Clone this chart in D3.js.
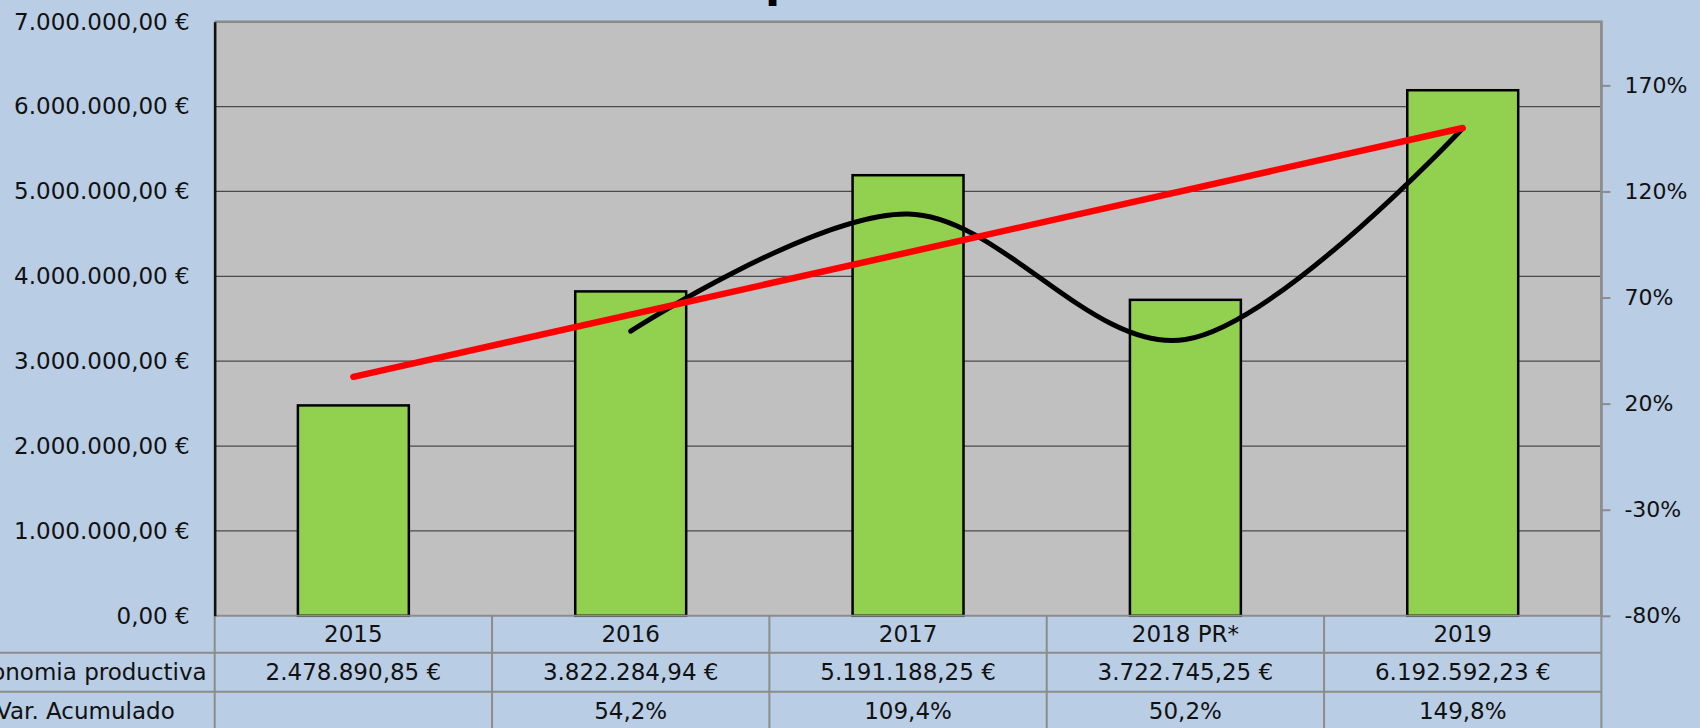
<!DOCTYPE html>
<html>
<head>
<meta charset="utf-8">
<script src="https://cdn.jsdelivr.net/npm/d3@7"></script>
<style>
  html, body { margin: 0; padding: 0; background: #B9CDE5; overflow: hidden; }
  text { font-family: "DejaVu Sans", sans-serif; fill: #111; }
</style>
</head>
<body>
<div id="chart"></div>
<script>
// data
const categories = ["2015", "2016", "2017", "2018 PR*", "2019"];
const productiva = [2478890.85, 3822284.94, 5191188.25, 3722745.25, 6192592.23];
const varAcumulado = [null, 0.542, 1.094, 0.502, 1.498];
const rowLabels = ["Economia productiva", "Var. Acumulado"];
const leftTicks = [0, 1000000, 2000000, 3000000, 4000000, 5000000, 6000000, 7000000];
const rightTicks = [-0.8, -0.3, 0.2, 0.7, 1.2, 1.7];
const titleText = "Economia productiva";

const width = 1700, height = 728;
const plotL = 214.7, plotR = 1601.4, plotT = 21.7, plotB = 615.8;
const rowLines = [615.8, 652.7, 691.7, 731];
const fontSize = 23;

const loc = d3.formatLocale({decimal: ",", thousands: ".", grouping: [3], currency: ["", " €"], minus: "-"});
const euro = v => loc.format(",.2f")(v) + " €";
const pct1 = loc.format(".1%");
const pct0 = loc.format(".0%");

const svg = d3.select("#chart")
  .append("svg")
    .attr("width", width)
    .attr("height", height)
    .style("display", "block");

svg.append("rect").attr("width", width).attr("height", height).attr("fill", "#B9CDE5");

// scales
const xCol = d3.scaleBand().domain(categories).range([plotL, plotR]);
const xBar = d3.scaleBand().domain(categories).range([plotL, plotR]).paddingInner(0.6).paddingOuter(0.3);
const yL = d3.scaleLinear().domain([0, 7000000]).range([plotB, plotT]);
const yR = d3.scaleLinear().domain([-0.8, 2.0]).range([plotB, plotT]);
const cx = c => xCol(c) + xCol.bandwidth() / 2;

// title sits above the page edge, only the descender of the "p" shows
const title = svg.append("text")
  .attr("y", -3)
  .style("font-size", "44px")
  .style("font-weight", "bold")
  .style("fill", "#000")
  .text(titleText);
const pIdx = titleText.indexOf("p");
const subLen = title.node().getSubStringLength(0, pIdx);
title.attr("x", 768 - 3 - subLen);

// plot area
svg.append("rect")
  .attr("x", plotL).attr("y", plotT)
  .attr("width", plotR - plotL).attr("height", plotB - plotT)
  .attr("fill", "#C0C0C0");

// gridlines
svg.append("g")
  .selectAll("line")
  .data(leftTicks.filter(d => d > 0 && d < 7000000))
  .join("line")
  .attr("x1", plotL).attr("x2", plotR)
  .attr("y1", d => yL(d)).attr("y2", d => yL(d))
  .attr("stroke", "#4a4a4a")
  .attr("stroke-width", 1.3);

// plot border top/right
svg.append("path")
  .attr("d", `M${plotL},${plotT}H${plotR}V${plotB}`)
  .attr("fill", "none")
  .attr("stroke", "#8a8a8a")
  .attr("stroke-width", 2.5);

// bars
svg.append("g")
  .selectAll("rect")
  .data(categories)
  .join("rect")
  .attr("x", d => xBar(d))
  .attr("y", (d, i) => yL(productiva[i]))
  .attr("width", xBar.bandwidth())
  .attr("height", (d, i) => yL(0) - yL(productiva[i]))
  .attr("fill", "#92D050")
  .attr("stroke", "#000")
  .attr("stroke-width", 2.5);

// table grid
const grid = svg.append("g").attr("stroke", "#8c8c8c").attr("stroke-width", 2);
grid.append("line").attr("x1", plotL).attr("x2", plotR).attr("y1", plotB).attr("y2", plotB);
grid.selectAll("line.row")
  .data(rowLines.slice(1))
  .join("line")
  .attr("class", "row")
  .attr("x1", 0).attr("x2", plotR)
  .attr("y1", d => d).attr("y2", d => d);
grid.selectAll("line.col")
  .data(categories.map(c => xCol(c)).concat([plotR]))
  .join("line")
  .attr("class", "col")
  .attr("x1", d => d).attr("x2", d => d)
  .attr("y1", (d, i) => i === 0 || i === categories.length ? plotT : plotB)
  .attr("y2", height);

// left axis
const axL = svg.append("g")
  .attr("transform", `translate(${plotL},0)`)
  .call(d3.axisLeft(yL).tickValues(leftTicks).tickSize(0).tickPadding(25).tickFormat(euro));
axL.select(".domain").attr("stroke", "#111").attr("stroke-width", 2.5);
axL.selectAll("text").style("font-size", fontSize + "px");

// right axis
const axR = svg.append("g")
  .attr("transform", `translate(${plotR},0)`)
  .call(d3.axisRight(yR).tickValues(rightTicks).tickSize(9).tickPadding(14).tickFormat(pct0));
axR.select(".domain").remove();
axR.selectAll("line").attr("stroke", "#8c8c8c").attr("stroke-width", 2);
axR.selectAll("text").style("font-size", "22px");

// table text
const mid = i => (rowLines[i] + rowLines[i + 1]) / 2;
const tbl = svg.append("g").style("font-size", fontSize + "px");
tbl.selectAll("text.cat")
  .data(categories)
  .join("text")
  .attr("class", "cat")
  .attr("x", d => cx(d)).attr("y", mid(0))
  .attr("dy", "0.35em").attr("text-anchor", "middle")
  .text(d => d);
tbl.selectAll("text.val")
  .data(categories)
  .join("text")
  .attr("class", "val")
  .attr("x", d => cx(d)).attr("y", mid(1))
  .attr("dy", "0.35em").attr("text-anchor", "middle")
  .text((d, i) => euro(productiva[i]));
tbl.selectAll("text.var")
  .data(categories)
  .join("text")
  .attr("class", "var")
  .attr("x", d => cx(d)).attr("y", mid(2))
  .attr("dy", "0.35em").attr("text-anchor", "middle")
  .text((d, i) => varAcumulado[i] == null ? "" : pct1(varAcumulado[i]));
// row labels centred in a label column whose right side ends just before the plot
const labs = tbl.selectAll("text.lab")
  .data(rowLabels)
  .join("text")
  .attr("class", "lab")
  .attr("y", (d, i) => mid(i + 1))
  .attr("dy", "0.35em").attr("text-anchor", "middle")
  .text(d => d);
const labW = d3.max(labs.nodes(), nd => nd.getComputedTextLength());
labs.attr("x", plotL - 8 - labW / 2);

// accumulated variation, smoothed line on right axis
const varPts = categories.map((c, i) => [cx(c), varAcumulado[i]]).filter(p => p[1] != null);
svg.append("path")
  .datum(varPts)
  .attr("d", d3.line().x(d => d[0]).y(d => yR(d[1])).curve(d3.curveCardinal.tension(0)))
  .attr("fill", "none")
  .attr("stroke", "#000")
  .attr("stroke-width", 5)
  .attr("stroke-linecap", "round");

// linear trendline of the bars
const n = productiva.length;
const mx = (n - 1) / 2, my = d3.mean(productiva);
const slope = d3.sum(productiva, (v, i) => (i - mx) * (v - my)) / d3.sum(productiva, (v, i) => (i - mx) ** 2);
const trend = [0, n - 1].map(i => [cx(categories[i]), my + slope * (i - mx)]);
svg.append("path")
  .datum(trend)
  .attr("d", d3.line().x(d => d[0]).y(d => yL(d[1])))
  .attr("fill", "none")
  .attr("stroke", "#FF0000")
  .attr("stroke-width", 6.5)
  .attr("stroke-linecap", "round");
</script>
</body>
</html>
